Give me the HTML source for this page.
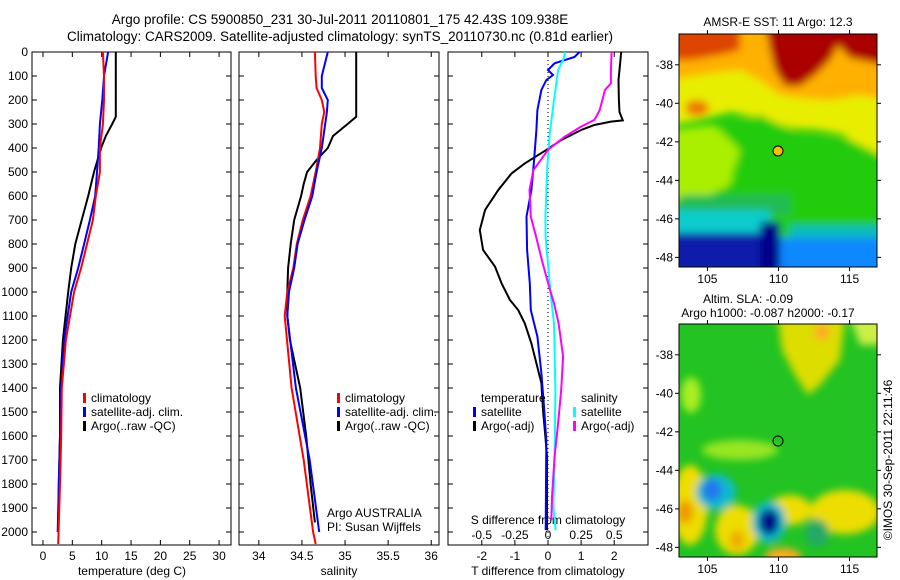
<!DOCTYPE html>
<html><head><meta charset="utf-8">
<style>
body{margin:0;background:#fff;width:900px;height:580px;overflow:hidden}
svg{font-family:"Liberation Sans",sans-serif;display:block}
text{fill:#000}
</style></head>
<body>
<svg id="fig" width="900" height="580" viewBox="0 0 900 580">
<defs>
<filter id="bl" x="-20%" y="-20%" width="140%" height="140%"><feGaussianBlur stdDeviation="4"/></filter>
<clipPath id="c1"><rect x="679" y="34" width="198" height="233"/></clipPath>
<clipPath id="c2"><rect x="679" y="324" width="198" height="233"/></clipPath>
</defs>
<text x="340" y="24" font-size="13.5" text-anchor="middle">Argo profile: CS 5900850_231 30-Jul-2011 20110801_175 42.43S 109.938E</text>
<text x="340" y="41" font-size="13.5" text-anchor="middle">Climatology: CARS2009. Satellite-adjusted climatology: synTS_20110730.nc (0.81d earlier)</text>

<g>
<text x="778" y="26" font-size="12" text-anchor="middle">AMSR-E SST: 11 Argo: 12.3</text>
<g clip-path="url(#c1)">
<rect x="679" y="34" width="198" height="233" fill="#22cc11"/>
<g filter="url(#bl)">
<path d="M670 20 L890 20 L890 170 L860 160 L845 135 L820 130 L790 128 L760 118 L730 112 L700 120 L670 125 Z" fill="#e8ee00"/>
<path d="M670 20 L890 20 L890 100 L860 95 L830 100 L800 98 L780 95 L760 80 L740 70 L720 72 L700 75 L670 80 Z" fill="#ffb000"/>
<path d="M670 20 L740 20 L740 50 L720 55 L690 60 L670 60 Z" fill="#dd4400"/>
<ellipse cx="697" cy="108" rx="12" ry="8" fill="#ee7700"/>
<path d="M765 20 L890 20 L890 66 L870 62 L850 58 L838 45 L830 60 L815 75 L800 86 L785 86 L775 70 L770 50 Z" fill="#aa0000"/>
<path d="M720 125 L760 115 L800 135 L850 140 L890 160 L890 240 L670 240 L670 200 L720 190 L740 170 Z" fill="#22cc11"/>
<path d="M670 130 L715 125 L740 150 L730 185 L700 200 L670 200 Z" fill="#aaee00"/>
<rect x="680" y="195" width="110" height="20" fill="#22bb55"/>
<rect x="670" y="210" width="100" height="30" fill="#11cccc"/>
<rect x="790" y="225" width="100" height="20" fill="#11bbbb"/>
<rect x="670" y="233" width="100" height="40" fill="#0a1aaa"/>
<rect x="760" y="222" width="20" height="50" fill="#000088"/>
<rect x="780" y="238" width="110" height="40" fill="#1188ff"/>
</g>
</g>
<rect x="679" y="34" width="198" height="233" fill="none" stroke="#000"/>
<circle cx="778" cy="151" r="5" fill="#f4c000" stroke="#000"/>
</g>

<g>
<text x="748" y="303" font-size="12" text-anchor="middle">Altim. SLA: -0.09</text>
<text x="768" y="317" font-size="12" text-anchor="middle">Argo h1000: -0.087 h2000: -0.17</text>
<g clip-path="url(#c2)">
<rect x="679" y="324" width="198" height="233" fill="#22c322"/>
<g filter="url(#bl)">
<path d="M778 318 L845 318 L840 360 L820 385 L808 395 L795 375 L782 350 Z" fill="#dddd00"/>
<ellipse cx="822" cy="332" rx="8" ry="8" fill="#ffaa22"/>
<path d="M850 318 L885 318 L885 345 L860 345 Z" fill="#ccee44"/>
<ellipse cx="691" cy="395" rx="10" ry="18" fill="#aaee22"/>
<ellipse cx="740" cy="450" rx="38" ry="10" fill="#99e622"/>
<ellipse cx="690" cy="505" rx="18" ry="40" fill="#eedd00"/>
<ellipse cx="685" cy="512" rx="8" ry="12" fill="#ee9900"/>
<ellipse cx="737" cy="530" rx="22" ry="25" fill="#eedd00"/>
<ellipse cx="737" cy="540" rx="7" ry="10" fill="#eeaa00"/>
<ellipse cx="790" cy="510" rx="22" ry="15" fill="#eedd00"/>
<ellipse cx="845" cy="512" rx="35" ry="22" fill="#eedd00"/>
<ellipse cx="817" cy="533" rx="12" ry="14" fill="#22aa66"/>
<ellipse cx="783" cy="556" rx="18" ry="8" fill="#ffaa22"/>
<ellipse cx="716" cy="492" rx="20" ry="18" fill="#11bbcc"/>
<ellipse cx="712" cy="490" rx="10" ry="11" fill="#2277ee"/>
<ellipse cx="769" cy="522" rx="17" ry="21" fill="#11bbcc"/>
<ellipse cx="769" cy="522" rx="10" ry="13" fill="#000088"/>
</g>
</g>
<rect x="679" y="324" width="198" height="233" fill="none" stroke="#000"/>
<circle cx="778" cy="441" r="5" fill="none" stroke="#000"/>
<text transform="translate(892,460) rotate(-90)" font-size="12" text-anchor="middle">©IMOS 30-Sep-2011 22:11:46</text>
</g>
<g id="dyn"></g>
</svg>
<script>
// ---- data: [depth, value] ----
const depthTicks=[0,100,200,300,400,500,600,700,800,900,1000,1100,1200,1300,1400,1500,1600,1700,1800,1900,2000];
const tempTicks=[0,5,10,15,20,25,30];
const salTicks=[34,34.5,35,35.5,36];
const tdTicks=[-2,-1,0,1,2];
const sdTicks=[-0.5,-0.25,0,0.25,0.5];
const tClim=[[0,10.2],[100,10.4],[200,10.4],[300,10.2],[400,9.7],[500,9.7],[600,9.0],[700,8.5],[800,7.5],[900,6.5],[1000,5.3],[1200,3.9],[1400,3.2],[1600,3.1],[1800,2.9],[2050,2.6]];
const tSat=[[0,11.1],[100,10.4],[200,10.1],[300,9.7],[400,9.5],[500,9.2],[600,8.9],[700,8.0],[800,7.0],[900,6.0],[1000,4.8],[1200,3.6],[1400,3.1],[1600,2.9],[1800,2.7],[2000,2.5]];
const tArgo=[[0,12.4],[270,12.4],[300,11.8],[350,10.7],[400,9.9],[500,8.7],[600,7.7],[700,6.6],[800,5.5],[900,4.8],[1000,4.3],[1200,3.4],[1400,2.9],[1600,2.9],[1800,2.7],[1990,2.6]];
const sClim=[[0,34.65],[100,34.66],[150,34.67],[200,34.73],[250,34.76],[300,34.73],[400,34.71],[500,34.66],[600,34.6],[700,34.51],[800,34.44],[900,34.4],[1000,34.33],[1100,34.3],[1400,34.38],[1700,34.52],[2000,34.63],[2050,34.66]];
const sSat=[[0,34.8],[100,34.73],[150,34.73],[200,34.8],[250,34.79],[300,34.77],[400,34.73],[500,34.67],[600,34.62],[700,34.53],[800,34.45],[900,34.41],[1000,34.35],[1100,34.33],[1400,34.43],[1700,34.59],[2000,34.7]];
const sArgo=[[0,35.13],[270,35.13],[300,35.03],[350,34.86],[400,34.8],[450,34.67],[500,34.56],[550,34.52],[600,34.49],[700,34.41],[800,34.37],[900,34.34],[1000,34.33],[1100,34.33],[1200,34.36],[1400,34.48],[1600,34.55],[1800,34.6],[1960,34.65]];
const tdSat=[[0,0.95],[21,0.8],[47,0.2],[75,0],[96,0.15],[117,-0.05],[158,-0.2],[242,-0.32],[325,-0.35],[450,-0.42],[575,-0.5],[686,-0.65],[825,-0.63],[964,-0.55],[1075,-0.52],[1131,-0.42],[1186,-0.32],[1339,-0.2],[1478,-0.12],[1617,-0.05],[1992,-0.07]];
const tdArgo=[[0,2.21],[75,2.16],[117,2.13],[200,2.14],[250,2.16],[285,2.26],[290,1.9],[304,1.4],[325,1.0],[367,0.4],[408,-0.05],[464,-0.7],[506,-1.1],[575,-1.5],[658,-1.9],[742,-2.06],[825,-1.96],[894,-1.6],[964,-1.4],[1033,-1.15],[1075,-0.9],[1131,-0.7],[1214,-0.5],[1297,-0.35],[1380,-0.2],[1492,-0.15],[1603,-0.08],[1686,-0.03],[1992,-0.03]];
const sdSat=[[0,0.13],[33,0.114],[75,0.076],[200,0.045],[339,0.013],[478,-0.005],[686,-0.02],[770,-0.018],[964,0.013],[1033,0.025],[1131,0.045],[1408,0.056],[1686,0.05],[1894,0.04],[1992,0.058]];
const sdArgo=[[0,0.48],[75,0.475],[131,0.475],[158,0.43],[242,0.39],[283,0.35],[311,0.25],[353,0.126],[408,0],[492,-0.11],[575,-0.14],[686,-0.13],[770,-0.09],[881,-0.04],[978,0.008],[1047,0.045],[1131,0.08],[1269,0.114],[1408,0.1],[1547,0.076],[1686,0.05],[1853,0.03],[1950,0.025]];
const mapLonTicks=[105,110,115];
const mapLatTicks=[-38,-40,-42,-44,-46,-48];

const NS='http://www.w3.org/2000/svg';
const G=document.getElementById('dyn');
function mk(tag,at,txt){const e=document.createElementNS(NS,tag);for(const k in at)e.setAttribute(k,at[k]);if(txt!=null)e.textContent=txt;G.appendChild(e);return e;}
const Y0=52,Y1=545;
function yD(d){return Y0+d*0.24;}
const panels=[
 {x0:32,x1:231,lo:-1.87,hi:32.03},
 {x0:239,x1:439,lo:33.77,hi:36.09},
 {x0:448,x1:648,lo:-3.02,hi:3.02},
];
function xs(p,v){return p.x0+(v-p.lo)/(p.hi-p.lo)*(p.x1-p.x0);}
const sdP={x0:448,x1:648,lo:-0.755,hi:0.755};

function line(p,arr,col,w,name){
 const pts=arr.map(a=>xs(p,a[1]).toFixed(1)+','+yD(a[0]).toFixed(1)).join(' ');
 const e=mk('polyline',{points:pts,fill:'none',stroke:col,'stroke-width':w});
 
 
}
panels.forEach((p,i)=>{
 const r=mk('rect',{x:p.x0,y:Y0,width:p.x1-p.x0,height:Y1-Y0,fill:'none',stroke:'#000','stroke-width':1});
 
 
 depthTicks.forEach(d=>{
  mk('line',{x1:p.x0,x2:p.x0+5,y1:yD(d),y2:yD(d),stroke:'#000'});
  mk('line',{x1:p.x1,x2:p.x1-5,y1:yD(d),y2:yD(d),stroke:'#000'});
 });
});
depthTicks.forEach(d=>{
 const t=mk('text',{x:28,y:yD(d)+4,'font-size':12,'text-anchor':'end'},String(d));
 
 
});
function xt(p,ticks,y){
 ticks.forEach(v=>{const x=xs(p,v);
  mk('line',{x1:x,x2:x,y1:Y1,y2:Y1-5,stroke:'#000'});
  mk('line',{x1:x,x2:x,y1:Y0,y2:Y0+5,stroke:'#000'});
  const t=mk('text',{x:x,y:y,'font-size':12,'text-anchor':'middle'},String(v));
  
  
 });
}
xt(panels[0],tempTicks,560);
xt(panels[1],salTicks,560);
xt(panels[2],tdTicks,560);
sdTicks.forEach(v=>{const t=mk('text',{x:xs(sdP,v),y:539,'font-size':12,'text-anchor':'middle'},String(v));
 
 });
[['temperature (deg C)',132,'temperature-axis-title'],['salinity',339,'salinity-axis-title'],['T difference from climatology',548,'t-diff-axis-title']].forEach(a=>{
 const t=mk('text',{x:a[1],y:575,'font-size':12,'text-anchor':'middle'},a[0]);
 
 });
const st=mk('text',{x:548,y:524,'font-size':12,'text-anchor':'middle'},'S difference from climatology');


const zl=mk('line',{x1:548,x2:548,y1:Y0,y2:Y1,stroke:'#000','stroke-dasharray':'1,3'});



line(panels[0],tArgo,'#000',2,'temp-argo-line');
line(panels[0],tSat,'#0000ff',2,'temp-satellite-line');
line(panels[0],tClim,'#ff0000',2,'temp-climatology-line');
line(panels[1],sArgo,'#000',2,'sal-argo-line');
line(panels[1],sClim,'#ff0000',2,'sal-climatology-line');
line(panels[1],sSat,'#0000ff',2,'sal-satellite-line');
line(panels[2],tdArgo,'#000',2,'tdiff-argo-line');
line(panels[2],tdSat,'#0000ff',2,'tdiff-satellite-line');
line(sdP,sdSat,'#00ffff',2,'sdiff-satellite-line');
line(sdP,sdArgo,'#ff00ff',2,'sdiff-argo-line');

function leg(x,y,col,txt,name){
 mk('rect',{x:x,y:y-9,width:3,height:10,fill:col});
 const t=mk('text',{x:x+8,y:y,'font-size':12},txt);
 
 
}
[[83],[337]].forEach((a,i)=>{
 leg(a[0],402,'#ff0000','climatology','legend-climatology-'+(i+1));
 leg(a[0],416,'#0000ff','satellite-adj. clim.','legend-satellite-'+(i+1));
 leg(a[0],430,'#000','Argo(..raw -QC)','legend-argo-'+(i+1));
});
const lt=mk('text',{x:481,y:402,'font-size':12},'temperature');


const ls=mk('text',{x:581,y:402,'font-size':12},'salinity');


leg(473,416,'#0000ff','satellite','legend-t-satellite');
leg(473,430,'#000','Argo(-adj)','legend-t-argo');
leg(573,416,'#00ffff','satellite','legend-s-satellite');
leg(573,430,'#ff00ff','Argo(-adj)','legend-s-argo');
const a1=mk('text',{x:327,y:517,'font-size':12},'Argo AUSTRALIA');


const a2=mk('text',{x:327,y:531,'font-size':12},'PI: Susan Wijffels');



[[34,267],[324,557]].forEach((m,k)=>{
 const lonX=v=>679+(v-103.0)/(116.93-103.0)*198;
 const latY=v=>m[0]+(-36.4-v)/(48.5-36.4)*233;
 mapLonTicks.forEach(v=>{const x=lonX(v);
  mk('line',{x1:x,x2:x,y1:m[0]-4,y2:m[0],stroke:'#000'});
  mk('line',{x1:x,x2:x,y1:m[1],y2:m[1]+4,stroke:'#000'});
  const t=mk('text',{x:x,y:m[1]+16,'font-size':12,'text-anchor':'middle'},String(v));
  
  
 });
 mapLatTicks.forEach(v=>{const y=latY(v);
  mk('line',{x1:675,x2:679,y1:y,y2:y,stroke:'#000'});
  mk('line',{x1:877,x2:881,y1:y,y2:y,stroke:'#000'});
  const t=mk('text',{x:673,y:y+4,'font-size':12,'text-anchor':'end'},String(v));
  
  
 });
});
</script>
</body></html>
